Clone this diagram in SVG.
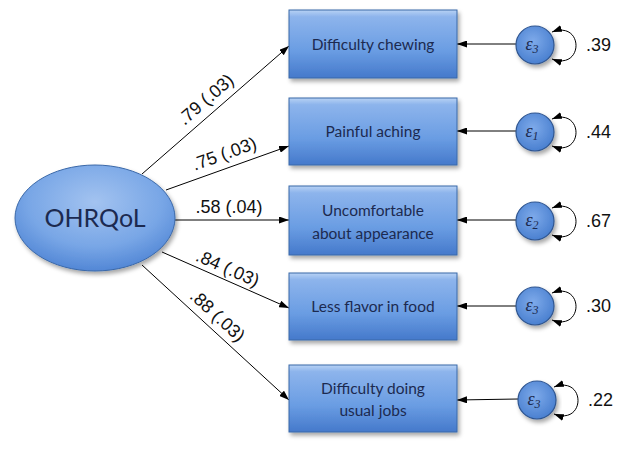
<svg xmlns="http://www.w3.org/2000/svg" width="624" height="451" viewBox="0 0 624 451">
<defs>
  <linearGradient id="boxg" x1="0" y1="0" x2="0" y2="1">
    <stop offset="0" stop-color="#b8d2f4"/>
    <stop offset="0.1" stop-color="#8db4ec"/>
    <stop offset="0.6" stop-color="#6a9de3"/>
    <stop offset="1" stop-color="#4579cb"/>
  </linearGradient>
  <radialGradient id="ellg" cx="0.5" cy="0.35" r="0.7">
    <stop offset="0" stop-color="#a3c3f0"/>
    <stop offset="0.6" stop-color="#78a6e6"/>
    <stop offset="1" stop-color="#4a80d2"/>
  </radialGradient>
  <radialGradient id="circg" cx="0.45" cy="0.4" r="0.6">
    <stop offset="0" stop-color="#7eaaea"/>
    <stop offset="1" stop-color="#4a80d0"/>
  </radialGradient>
  <filter id="sh" x="-10%" y="-10%" width="125%" height="130%">
    <feDropShadow dx="2" dy="3" stdDeviation="2" flood-color="#000" flood-opacity="0.35"/>
  </filter>
  <marker id="ah" viewBox="0 0 10 7" refX="10" refY="3.5" markerWidth="10" markerHeight="7" markerUnits="userSpaceOnUse" orient="auto-start-reverse">
    <path d="M0,0 L10,3.5 L0,7 z" fill="#000"/>
  </marker>
</defs>
<style>
  .box { fill: url(#boxg); stroke: #3a68a8; stroke-width: 1; filter: url(#sh); }
  .bt { font-family: Lato, "Open Sans", sans-serif; font-size: 15.5px; fill: #1c2a50; text-anchor: middle; }
  .lab { font-family: "Liberation Sans", Arial, sans-serif; font-size: 18px; fill: #111; text-anchor: middle; }
  .val { font-family: "Liberation Sans", Arial, sans-serif; font-size: 18px; fill: #111; }
  .err { fill: url(#circg); stroke: #2f5590; stroke-width: 1.2; filter: url(#sh); }
  .eps { font-family: "Liberation Serif", serif; font-style: italic; font-size: 18px; fill: #1c2a50; text-anchor: middle; }
  .con { stroke: #000; stroke-width: 1; fill: none; marker-end: url(#ah); }
  .loop { stroke: #000; stroke-width: 1; fill: none; marker-start: url(#ah); marker-end: url(#ah); }
</style>

<g id="connectors">
  <line class="con" x1="142" y1="174" x2="289" y2="46"/>
  <line class="con" x1="166" y1="190" x2="289" y2="146"/>
  <line class="con" x1="175" y1="220" x2="289" y2="220"/>
  <line class="con" x1="162" y1="252" x2="289" y2="308"/>
  <line class="con" x1="142" y1="265" x2="289" y2="400"/>
  <line class="con" x1="516" y1="44" x2="457" y2="44"/>
  <line class="con" x1="516" y1="131" x2="457" y2="131"/>
  <line class="con" x1="516" y1="220" x2="457" y2="220"/>
  <line class="con" x1="516" y1="306" x2="457" y2="306"/>
  <line class="con" x1="518" y1="399" x2="457" y2="400"/>
  <path class="loop" d="M552,32 C584,20 584,71 552,59"/>
  <path class="loop" d="M552,119 C584,107 584,158 552,146"/>
  <path class="loop" d="M552,208 C584,196 584,247 552,235"/>
  <path class="loop" d="M552,293 C584,281 584,332 552,320"/>
  <path class="loop" d="M554,387 C586,375 586,426 554,414"/>
  <text class="lab" transform="translate(215,110) rotate(-41)" y="-8">.79 (.03)</text>
  <text class="lab" transform="translate(229,167) rotate(-19.7)" y="-8">.75 (.03)</text>
  <text class="lab" x="229" y="213">.58 (.04)</text>
  <text class="lab" transform="translate(222,281) rotate(23.8)" y="-8">.84 (.03)</text>
  <text class="lab" transform="translate(208,326) rotate(42.6)" y="-8">.88 (.03)</text>
</g>

<g id="ohrqol">
  <ellipse cx="95" cy="218" rx="80" ry="53" fill="url(#ellg)" stroke="#3a68a8" stroke-width="1" filter="url(#sh)"/>
  <text x="95" y="227" font-family="Lato, 'Open Sans', sans-serif" font-size="25" fill="#1c2a50" text-anchor="middle">OHRQoL</text>
</g>

<g id="box1">
  <rect class="box" x="289" y="10" width="168" height="68"/>
  <text class="bt" x="373" y="50">Difficulty chewing</text>
</g>
<g id="box2">
  <rect class="box" x="289" y="98" width="168" height="67"/>
  <text class="bt" x="373" y="137">Painful aching</text>
</g>
<g id="box3">
  <rect class="box" x="289" y="186" width="168" height="69"/>
  <text class="bt" x="373" y="216">Uncomfortable</text>
  <text class="bt" x="373" y="239">about appearance</text>
</g>
<g id="box4">
  <rect class="box" x="289" y="273" width="168" height="67"/>
  <text class="bt" x="373" y="312">Less flavor in food</text>
</g>
<g id="box5">
  <rect class="box" x="289" y="365" width="168" height="67"/>
  <text class="bt" x="373" y="394">Difficulty doing</text>
  <text class="bt" x="373" y="416">usual jobs</text>
</g>

<g id="e1">
  <circle class="err" cx="535" cy="45" r="19"/>
  <text class="eps" x="532" y="50">ε<tspan font-size="12" dy="3">3</tspan></text>
  <text class="val" x="586" y="51">.39</text>
</g>
<g id="e2">
  <circle class="err" cx="535" cy="132" r="19"/>
  <text class="eps" x="532" y="137">ε<tspan font-size="12" dy="3">1</tspan></text>
  <text class="val" x="586" y="138">.44</text>
</g>
<g id="e3">
  <circle class="err" cx="535" cy="221" r="19"/>
  <text class="eps" x="532" y="226">ε<tspan font-size="12" dy="3">2</tspan></text>
  <text class="val" x="586" y="227">.67</text>
</g>
<g id="e4">
  <circle class="err" cx="535" cy="306" r="19"/>
  <text class="eps" x="532" y="311">ε<tspan font-size="12" dy="3">3</tspan></text>
  <text class="val" x="586" y="312">.30</text>
</g>
<g id="e5">
  <circle class="err" cx="537" cy="400" r="19"/>
  <text class="eps" x="534" y="405">ε<tspan font-size="12" dy="3">3</tspan></text>
  <text class="val" x="588" y="406">.22</text>
</g>
</svg>
